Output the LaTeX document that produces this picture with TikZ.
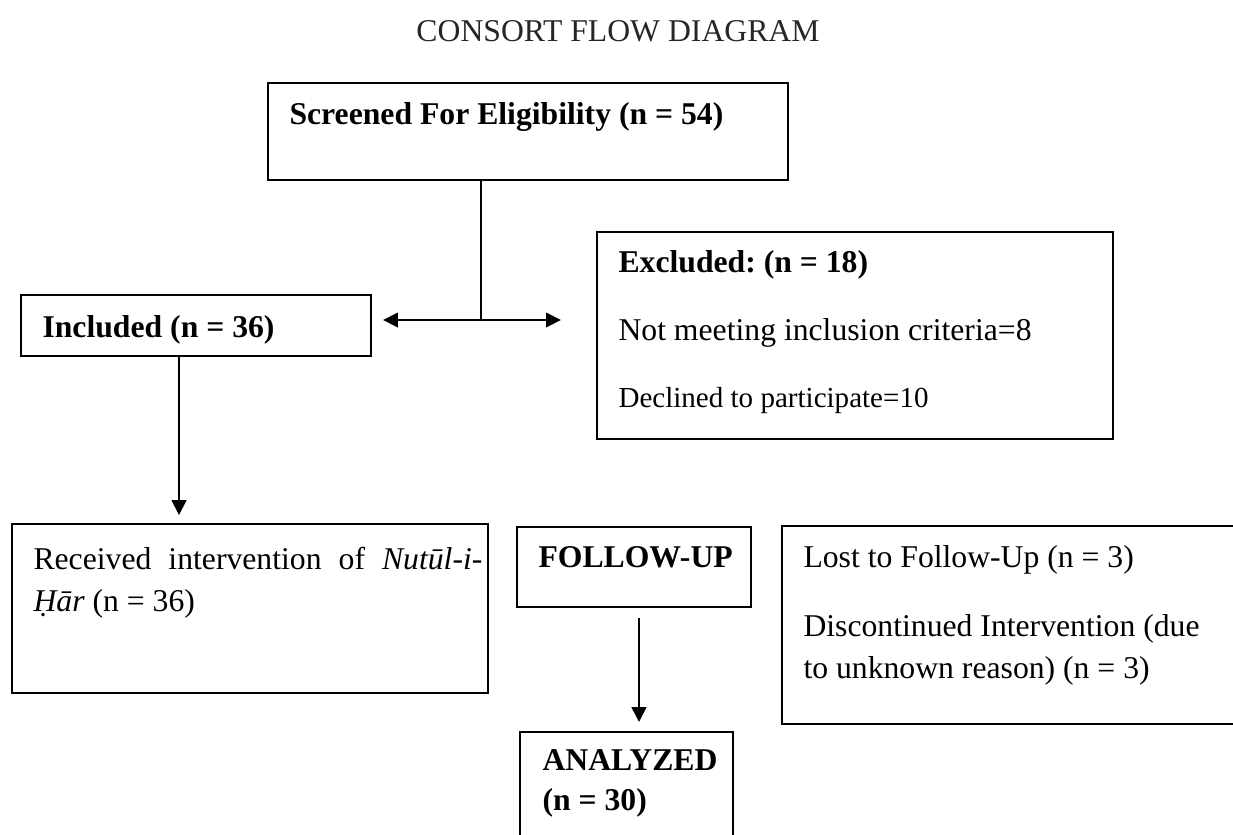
\documentclass[tikz,border=0pt]{standalone}
\usepackage{fontspec}
\setmainfont{Liberation Serif}
\usepackage{tikz}
\usetikzlibrary{arrows.meta,fit}
\frenchspacing

\begin{document}
\begin{tikzpicture}[x=0.3787pt,y=-0.3787pt,
  box/.style={draw,line width=0.8pt,inner sep=0pt},
  lbl/.style={anchor=base west,inner sep=0pt,font=\fontsize{12}{14}\selectfont},
  small/.style={lbl,font=\fontsize{11}{13}\selectfont},
  hd/.style={lbl,font=\fontsize{12}{14}\selectfont\bfseries},
  arr/.style={line width=0.6pt,-{Triangle[length=5.6pt,width=5.6pt]}}]
\clip (0,0) rectangle (1233,834);
\node[lbl,anchor=base,text=black!85] (title) at (618,41) {CONSORT FLOW DIAGRAM};

\node[box,fit={(268,83) (788,180)}] (screen) {};
\node[hd] (screentxt) at (289,124) {Screened For Eligibility (n = 54)};

\node[box,fit={(21,295) (371,356)}] (incl) {};
\node[hd] (incltxt) at (42,337) {Included (n = 36)};

\node[box,fit={(597,232) (1113,439)}] (excl) {};
\node[hd] (excltxt) at (618,272) {Excluded: (n = 18)};
\node[lbl] (crit) at (618,340) {Not meeting inclusion criteria=8};
\node[small] (decl) at (618,407) {Declined to participate=10};

\node[box,fit={(12,524) (488,693)}] (recv) {};
\node[lbl] (recvA) at (33,569) {\makebox[170pt][s]{Received intervention of \textit{Nutūl-i-}}};
\node[lbl] (recvB) at (33,611) {\textit{Ḥār} (n = 36)};

\node[box,fit={(517,527) (751,607)}] (follow) {};
\node[hd] (followtxt) at (538,567) {FOLLOW-UP};

\node[box,fit={(782,526) (1245,724)}] (lost) {};
\node[lbl] (lostA) at (803,567) {Lost to Follow-Up (n = 3)};
\node[lbl] (lostB) at (803,636) {Discontinued Intervention (due};
\node[lbl] (lostC) at (803,678) {to unknown reason) (n = 3)};

\node[box,fit={(520,732) (733,850)}] (analyzed) {};
\node[hd] (analyzedA) at (542,770) {ANALYZED};
\node[hd] (analyzedB) at (542,810) {(n = 30)};

\coordinate (split) at (481,320);
\draw[line width=0.6pt] (split |- screen.south) -- (split);
\draw[arr,shorten >=4.2pt] (split) -- (split -| incl.east);
\draw[arr,shorten >=13.3pt] (split) -- (split -| excl.west);
\coordinate (drop) at (179,0);
\draw[arr,shorten >=3pt] (drop |- incl.south) -- (drop |- recv.north);
\coordinate (drop2) at (639,0);
\draw[arr,shorten <=3.8pt,shorten >=3.4pt] (drop2 |- follow.south) -- (drop2 |- analyzed.north);
\end{tikzpicture}
\end{document}
